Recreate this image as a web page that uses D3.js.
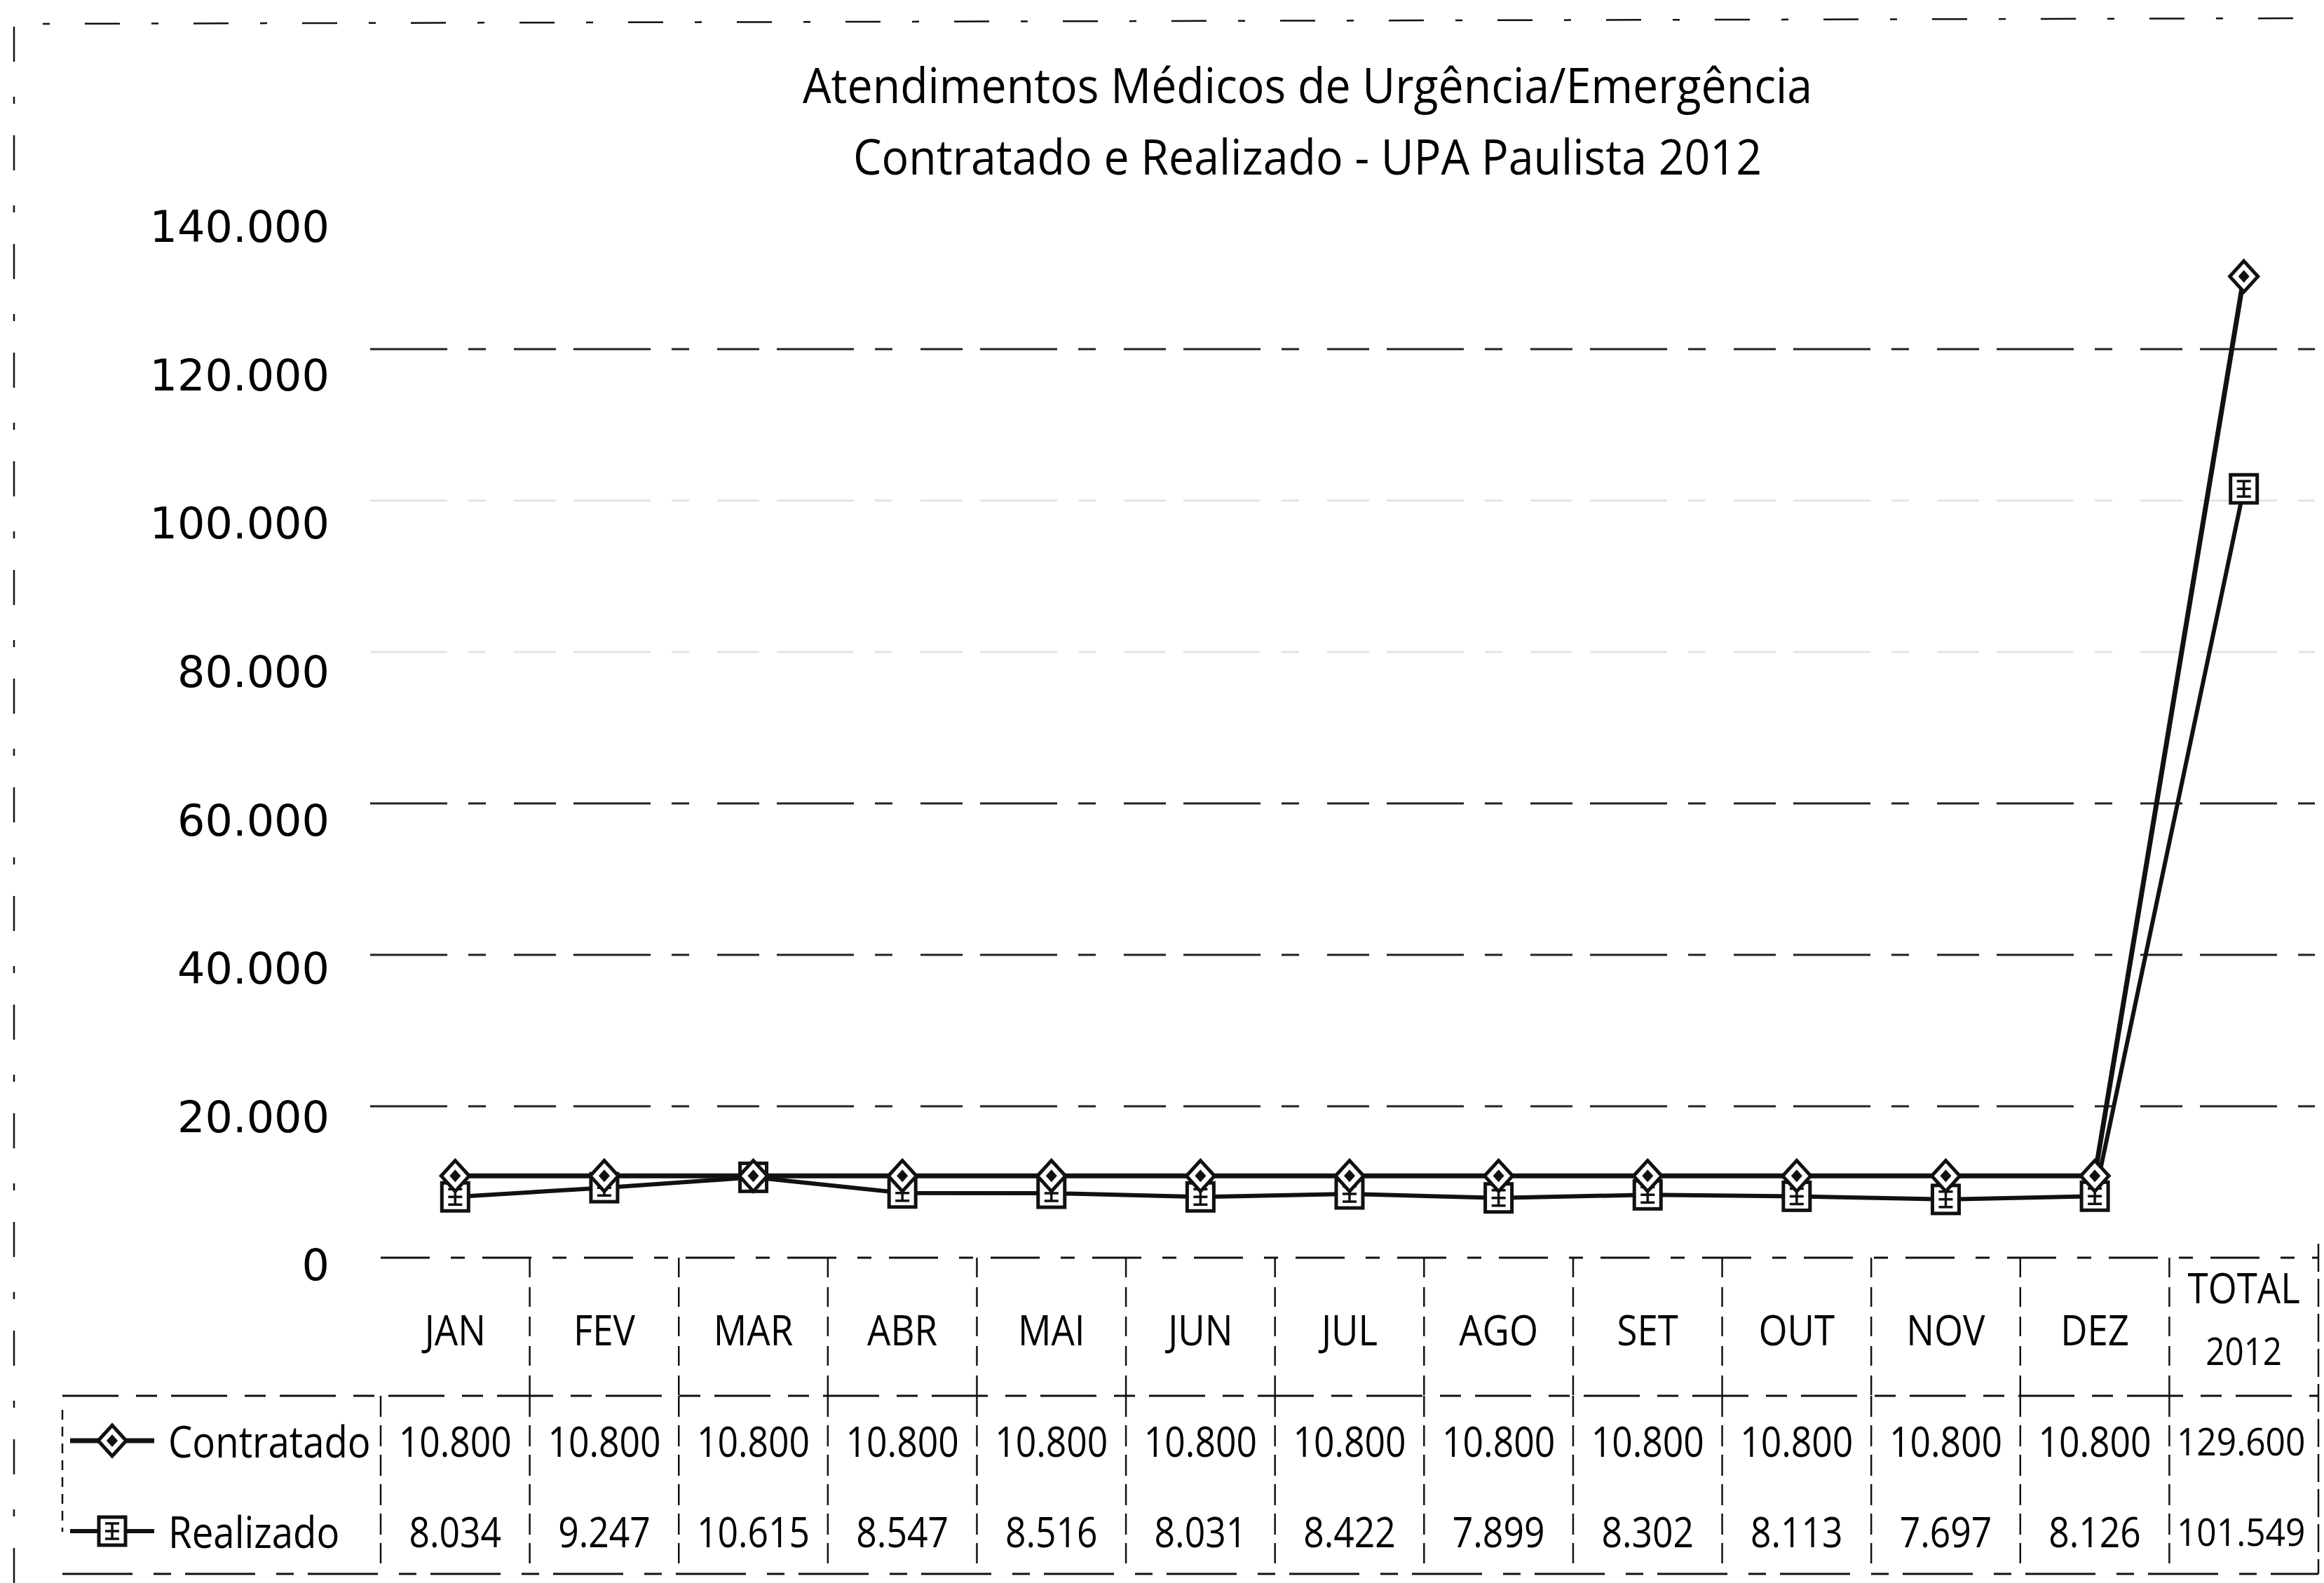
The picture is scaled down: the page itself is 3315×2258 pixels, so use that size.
<!DOCTYPE html>
<html>
<head>
<meta charset="utf-8">
<script src="https://cdn.jsdelivr.net/npm/d3@7"></script>
<style>
  body { margin: 0; background: #fff; }
  text { fill: #000; font-family: "Open Sans", "Noto Sans", sans-serif; }
</style>
</head>
<body>
<svg id="chart" width="3315" height="2258"></svg>
<script>
// chart data
const months = ["JAN", "FEV", "MAR", "ABR", "MAI", "JUN", "JUL", "AGO", "SET", "OUT", "NOV", "DEZ", "TOTAL 2012"];
const contratado = [10800, 10800, 10800, 10800, 10800, 10800, 10800, 10800, 10800, 10800, 10800, 10800, 129600];
const realizado = [8034, 9247, 10615, 8547, 8516, 8031, 8422, 7899, 8302, 8113, 7697, 8126, 101549];
const yTicks = [0, 20000, 40000, 60000, 80000, 100000, 120000, 140000];
const titleLines = ["Atendimentos Médicos de Urgência/Emergência", "Contratado e Realizado - UPA Paulista 2012"];
const seriesNames = ["Contratado", "Realizado"];

const svg = d3.select("#chart");
const br = d3.formatLocale({ decimal: ",", thousands: ".", grouping: [3], currency: ["R$", ""] });
const fmt = br.format(",d");

const plotLeft = 543, plotRight = 3307;
const plotTop = 282, plotBottom = 1794;
const headBottom = 1991, tableBottom = 2245, legendLeft = 89;
const rowY = [2055, 2184];

const x = d3.scaleBand().domain(months).range([plotLeft, plotRight]);
const cx = d => x(d) + x.bandwidth() / 2;
const y = d3.scaleLinear().domain([0, 140000]).range([plotBottom, plotTop]);

// narrow the wide fonts a bit so they look like the Calibri of the scan
function squeeze(sel, k) {
  sel.each(function (d, i) {
    const f = typeof k === "function" ? k(d, i) : k;
    const w = this.getComputedTextLength();
    d3.select(this).attr("textLength", w * f).attr("lengthAdjust", "spacingAndGlyphs");
  });
}

const ink = "#111";
const last = months.length - 1;

// chart border (top and left), broken like the scan
svg.append("path")
  .attr("d", "M20,2258 L20,34 L3315,26")
  .attr("fill", "none").attr("stroke", ink).attr("stroke-width", 2.5)
  .attr("stroke-dasharray", "50 45 10 50");

// title
svg.selectAll("text.title")
  .data(titleLines)
  .join("text")
  .attr("class", "title")
  .attr("x", 1865)
  .attr("y", (d, i) => 120 + i * 102)
  .attr("text-anchor", "middle")
  .attr("dominant-baseline", "central")
  .style("font-size", "70px")
  .text(d => d)
  .call(squeeze, 0.92);

// gridlines (the 80.000 and 100.000 lines are almost lost in the scan)
svg.append("g")
  .selectAll("line")
  .data(yTicks.filter(d => d > 0 && d < 140000))
  .join("line")
  .attr("x1", plotLeft - 15).attr("x2", plotRight - 5)
  .attr("y1", d => y(d)).attr("y2", d => y(d))
  .attr("stroke", d => (d === 80000 || d === 100000) ? "#e4e4e4" : "#222")
  .attr("stroke-width", 3)
  .attr("stroke-dasharray", "110 30 25 40 60 25");

// y axis labels
const yAxis = svg.append("g")
  .attr("transform", "translate(470,0)")
  .call(d3.axisLeft(y).tickValues(yTicks).tickSize(0).tickPadding(0).tickFormat(fmt));
yAxis.select(".domain").remove();
yAxis.selectAll("text")
  .attr("y", d => 12 + 31 * d / 140000)
  .style("font-family", "'DejaVu Sans', sans-serif")
  .style("font-size", "62px")
  .attr("fill", "#000");

// data table grid
const grid = svg.append("g")
  .attr("stroke", ink).attr("stroke-width", 2.5).attr("fill", "none");

// top of the table (category axis) and row separators
grid.append("line").attr("x1", plotLeft).attr("x2", plotRight).attr("y1", plotBottom).attr("y2", plotBottom)
  .attr("stroke-width", 3).attr("stroke-dasharray", "70 30 20 25");
grid.append("line").attr("x1", legendLeft).attr("x2", plotRight).attr("y1", headBottom).attr("y2", headBottom)
  .attr("stroke-width", 3).attr("stroke-dasharray", "80 25 30 20");
grid.append("line").attr("x1", legendLeft).attr("x2", plotRight).attr("y1", tableBottom).attr("y2", tableBottom)
  .attr("stroke-width", 3).attr("stroke-dasharray", "100 30 25 20");

// vertical dividers in the header row
grid.selectAll("line.hv")
  .data(months.slice(1))
  .join("line")
  .attr("class", "hv")
  .attr("x1", d => x(d)).attr("x2", d => x(d))
  .attr("y1", plotBottom).attr("y2", headBottom)
  .attr("stroke-dasharray", "28 14");
grid.append("line").attr("x1", plotRight).attr("x2", plotRight).attr("y1", plotBottom - 20).attr("y2", tableBottom)
  .attr("stroke-dasharray", "40 10");

// vertical dividers in the value rows
grid.selectAll("line.rv")
  .data(months)
  .join("line")
  .attr("class", "rv")
  .attr("x1", d => x(d)).attr("x2", d => x(d))
  .attr("y1", headBottom).attr("y2", tableBottom - 15)
  .attr("stroke-dasharray", "30 12");
grid.append("line").attr("x1", legendLeft).attr("x2", legendLeft).attr("y1", headBottom + 20).attr("y2", tableBottom - 60)
  .attr("stroke-dasharray", "14 10");

// category labels
svg.append("g")
  .selectAll("g")
  .data(months)
  .join("g")
  .each(function (d) {
    const parts = d.split(" ");
    d3.select(this).selectAll("text")
      .data(parts)
      .join("text")
      .attr("x", cx(d))
      .attr("y", (p, i) => parts.length === 1 ? 1896 : 1836 + i * 90)
      .attr("text-anchor", "middle")
      .attr("dominant-baseline", "central")
      .style("font-size", (p, i) => parts.length > 1 && i === 1 ? "54px" : "60px")
      .text(p => p)
      .call(squeeze, 0.88);
  });

// table values (the wide totals get a slightly smaller size)
[contratado, realizado].forEach((vals, r) => {
  svg.append("g")
    .selectAll("text")
    .data(vals)
    .join("text")
    .attr("x", (v, i) => cx(months[i]) - (i === last ? 4 : 0))
    .attr("y", rowY[r])
    .attr("text-anchor", "middle")
    .attr("dominant-baseline", "central")
    .style("font-size", (v, i) => i === last ? "54px" : "60px")
    .text(v => fmt(v))
    .call(squeeze, (v, i) => i === last ? 0.92 : 0.86);
});

// markers
const diamond = g => {
  g.append("path").attr("d", "M0,-22 L20,0 L0,22 L-20,0 Z")
    .attr("fill", "#fff").attr("stroke", ink).attr("stroke-width", 5);
  g.append("path").attr("d", "M0,-9 L8,0 L0,9 L-8,0 Z").attr("fill", ink);
};
const square = g => {
  g.append("rect").attr("x", -19).attr("y", -20).attr("width", 38).attr("height", 40)
    .attr("fill", "#fff").attr("stroke", ink).attr("stroke-width", 5);
  g.append("path").attr("d", "M-10,-11 L10,-11 M0,-11 L0,11 M-10,11 L10,11 M-10,0 L10,0")
    .attr("fill", "none").attr("stroke", ink).attr("stroke-width", 3.5);
};

const line = d3.line().x((v, i) => cx(months[i])).y(v => y(v));
const series = [
  { name: seriesNames[0], values: contratado, width: 7, marker: diamond },
  { name: seriesNames[1], values: realizado, width: 6, marker: square }
];

// draw Realizado first so Contratado sits on top
series.slice().reverse().forEach(s => {
  svg.append("path")
    .datum(s.values)
    .attr("d", line)
    .attr("fill", "none")
    .attr("stroke", ink)
    .attr("stroke-width", s.width)
    .attr("stroke-linejoin", "round");
});
series.slice().reverse().forEach(s => {
  svg.append("g")
    .selectAll("g")
    .data(s.values)
    .join("g")
    .attr("transform", (v, i) => `translate(${cx(months[i])},${y(v)})`)
    .each(function () { s.marker(d3.select(this)); });
});

// legend keys inside the table
series.forEach((s, r) => {
  const g = svg.append("g");
  g.append("line").attr("x1", 100).attr("x2", 220).attr("y1", rowY[r]).attr("y2", rowY[r])
    .attr("stroke", ink).attr("stroke-width", s.width);
  s.marker(g.append("g").attr("transform", `translate(160,${rowY[r]})`));
  g.append("text")
    .attr("x", 240).attr("y", rowY[r])
    .attr("dominant-baseline", "central")
    .style("font-size", "62px")
    .text(s.name)
    .call(squeeze, 0.88);
});
</script>
</body>
</html>
